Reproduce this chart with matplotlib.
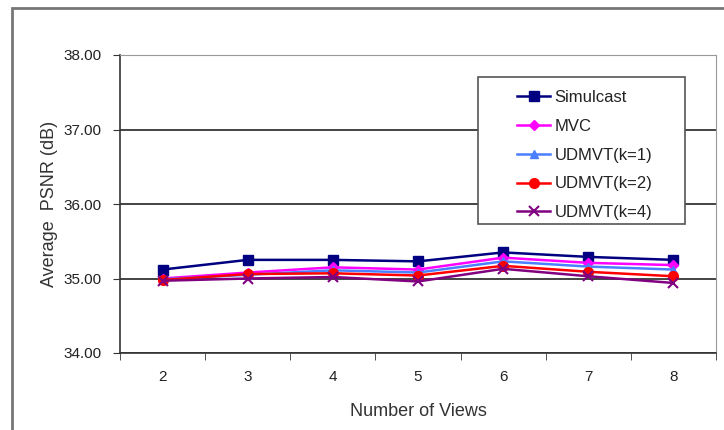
import numpy as np
import matplotlib.pyplot as plt
from matplotlib.patches import Rectangle

# 视点数与各方法的平均PSNR
views = [2, 3, 4, 5, 6, 7, 8]
simulcast = [35.12, 35.25, 35.25, 35.23, 35.35, 35.29, 35.25]
mvc = [35.00, 35.08, 35.15, 35.12, 35.28, 35.21, 35.18]
udmvt_k1 = [34.99, 35.05, 35.11, 35.08, 35.23, 35.16, 35.12]
udmvt_k2 = [34.98, 35.06, 35.07, 35.04, 35.17, 35.09, 35.03]
udmvt_k4 = [34.97, 35.00, 35.02, 34.96, 35.13, 35.03, 34.94]
yticks = [34.0, 35.0, 36.0, 37.0, 38.0]

plt.rcParams['font.family'] = ['Liberation Sans', 'DejaVu Sans']

fig = plt.figure(figsize=(7.24, 4.30), dpi=100)
fig.patches.append(Rectangle((12/724, -0.05), 1.2, 1 - 8/430 + 0.05,
                             transform=fig.transFigure, fill=False,
                             edgecolor='#777777', linewidth=2.0))
ax = fig.add_axes([120/724, 77/430, 596/724, 298/430])

x = np.arange(len(views))
ax.plot(x, simulcast, color='#000080', marker='s', markersize=7, lw=1.8, label='Simulcast')
ax.plot(x, mvc, color='#FF00FF', marker='D', markersize=5, lw=1.8, label='MVC')
ax.plot(x, udmvt_k1, color='#4A7FFF', marker='^', markersize=6, lw=1.8, label='UDMVT(k=1)')
ax.plot(x, udmvt_k2, color='#FF0000', marker='o', markersize=7, lw=1.8, label='UDMVT(k=2)')
ax.plot(x, udmvt_k4, color='#800080', marker='x', markersize=7, mew=1.5, lw=1.8, label='UDMVT(k=4)')

ax.set_xlim(-0.5, len(views) - 0.5)
ax.set_ylim(34, 38)
ax.set_yticks(yticks)
ax.set_yticklabels(['%.2f' % v for v in yticks], fontsize=11, color='#222222')
ax.set_xticks(x)
ax.set_xticklabels([str(v) for v in views], fontsize=11, color='#222222')
ax.tick_params(axis='x', length=0, pad=12)
# 类别之间的刻度线
ax.set_xticks(np.arange(-0.5, len(views)), minor=True)
ax.tick_params(axis='x', which='minor', length=5, direction='out', color='#333333')
ax.tick_params(axis='y', length=5, direction='out', color='#333333', pad=8)
ax.yaxis.grid(True, color='#111111', linewidth=1.1)
ax.set_axisbelow(True)
for s in ['left', 'bottom']:
    ax.spines[s].set_color('#333333')
    ax.spines[s].set_linewidth(1.2)
ax.spines['right'].set_color('#999999')
ax.spines['top'].set_color('#999999')

ax.set_xlabel('Number of Views', fontsize=13, color='#333333', labelpad=14)
ax.set_ylabel('Average  PSNR (dB)', fontsize=13, color='#333333', labelpad=4)

# 图例外框单独画，留出较宽的左边距
ax.add_patch(Rectangle((0.601, 0.433), 0.347, 0.493, transform=ax.transAxes,
                       facecolor='white', edgecolor='#555555', linewidth=1.2,
                       zorder=4))
leg = ax.legend(loc='upper left', bbox_to_anchor=(0.666, 0.883), frameon=False,
                fontsize=12, handlelength=2.0, labelspacing=0.83, borderpad=0,
                handletextpad=0.25, borderaxespad=0)
leg.set_zorder(5)
for t in leg.get_texts():
    t.set_color('#222222')

plt.savefig('out.png', dpi=100)
plt.close(fig)
